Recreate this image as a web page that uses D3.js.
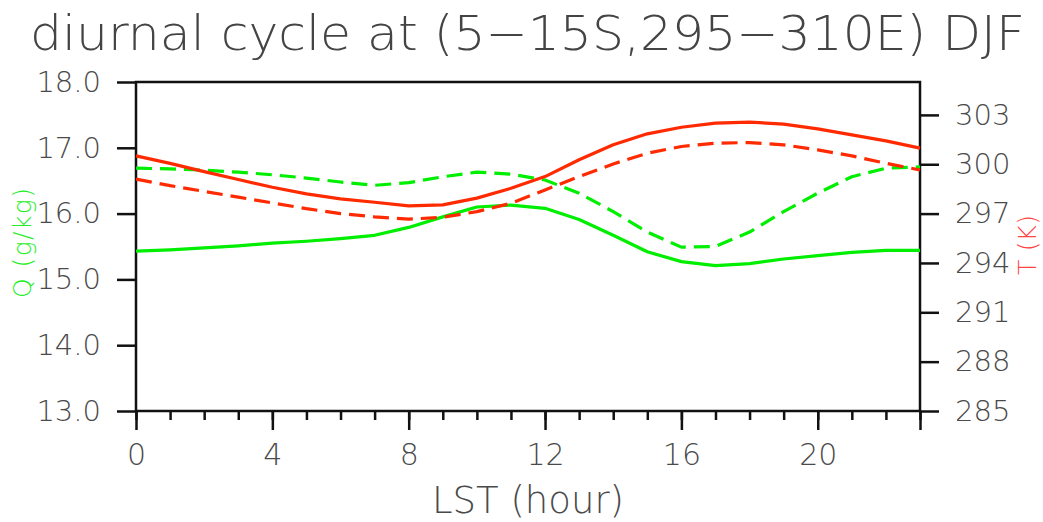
<!DOCTYPE html>
<html>
<head>
<meta charset="utf-8">
<script src="https://cdn.jsdelivr.net/npm/d3@7"></script>
<style>
  body { margin: 0; background: #fff; }
  text { font-family: "DejaVu Sans", sans-serif; font-weight: 200; }
</style>
</head>
<body>
<div id="chart"></div>
<script>
var hours = d3.range(0, 24)

// specific humidity (g/kg)
var qSolid = [15.43, 15.45, 15.48, 15.51, 15.55, 15.58, 15.62, 15.67, 15.79, 15.95, 16.10, 16.13,
              16.08, 15.91, 15.67, 15.42, 15.27, 15.21, 15.24, 15.31, 15.36, 15.41, 15.44, 15.44]
var qDashed = [16.69, 16.68, 16.66, 16.63, 16.59, 16.54, 16.48, 16.43, 16.47, 16.56, 16.63, 16.60,
               16.51, 16.31, 16.03, 15.72, 15.49, 15.50, 15.72, 16.03, 16.31, 16.56, 16.69, 16.71]

// temperature (K)
var tSolid = [300.51, 300.05, 299.55, 299.07, 298.6, 298.2, 297.9, 297.69, 297.47, 297.53, 297.94, 298.54,
              299.25, 300.27, 301.18, 301.85, 302.25, 302.50, 302.56, 302.44, 302.15, 301.79, 301.42, 300.98]
var tDashed = [299.1, 298.7, 298.35, 298.0, 297.65, 297.3, 297.0, 296.8, 296.66, 296.78, 297.12, 297.63,
               298.44, 299.25, 300.02, 300.67, 301.08, 301.28, 301.32, 301.18, 300.87, 300.51, 300.06, 299.65]

var qTicks = [13, 14, 15, 16, 17, 18]
var tTicks = [285, 288, 291, 294, 297, 300, 303]
var xTicks = [0, 4, 8, 12, 16, 20]

var W = 1043, H = 522
var margin = { top: 82, right: 123, bottom: 111, left: 136 }
var width = W - margin.left - margin.right
var height = H - margin.top - margin.bottom

var green = "#00ee00"
var red = "#ff2a00"

var svg = d3.select("#chart").append("svg")
    .attr("width", W)
    .attr("height", H)

var g = svg.append("g")
    .attr("transform", "translate(" + margin.left + "," + margin.top + ")")

var x = d3.scaleLinear().domain([0, 23]).range([0, width])
var yQ = d3.scaleLinear().domain([13, 18]).range([height, 0])
var yT = d3.scaleLinear().domain([285, 305]).range([height, 0])

// axes
var xMinor = g.append("g")
    .attr("transform", "translate(0," + height + ")")
    .call(d3.axisBottom(x).tickValues(hours).tickSize(9).tickFormat(""))
var xAxis = g.append("g")
    .attr("transform", "translate(0," + height + ")")
    .call(d3.axisBottom(x).tickValues(xTicks.concat([23])).tickSize(19).tickPadding(14)
        .tickFormat(function(d) { return d == 23 ? "" : d }))
var leftAxis = g.append("g")
    .call(d3.axisLeft(yQ).tickValues(qTicks).tickSize(19).tickPadding(16).tickFormat(d3.format(".1f")))
var rightAxis = g.append("g")
    .attr("transform", "translate(" + width + ",0)")
    .call(d3.axisRight(yT).tickValues(tTicks).tickSize(19).tickPadding(16))

;[xMinor, xAxis, leftAxis, rightAxis].forEach(function(a) {
    a.select(".domain").remove()
    a.selectAll("line").attr("stroke", "#111").attr("stroke-width", 2.5)
    a.selectAll("text").attr("fill", "#4a4a4a").style("font-size", "29px")
})
xAxis.selectAll("text").style("font-size", "30px")

// frame
g.append("rect")
    .attr("width", width)
    .attr("height", height)
    .attr("fill", "none")
    .attr("stroke", "#111")
    .attr("stroke-width", 2.5)

var lineQ = d3.line()
    .x(function(d, i) { return x(hours[i]) })
    .y(function(d) { return yQ(d) })
var lineT = d3.line()
    .x(function(d, i) { return x(hours[i]) })
    .y(function(d) { return yT(d) })

var series = [
    { data: qDashed, line: lineQ, color: green, dash: "16,8" },
    { data: qSolid, line: lineQ, color: green, dash: null },
    { data: tDashed, line: lineT, color: red, dash: "16,8" },
    { data: tSolid, line: lineT, color: red, dash: null }
]

g.selectAll(".series")
    .data(series)
    .enter().append("path")
    .attr("class", "series")
    .attr("d", function(d) { return d.line(d.data) })
    .attr("fill", "none")
    .attr("stroke", function(d) { return d.color })
    .attr("stroke-width", 3.2)
    .attr("stroke-linejoin", "round")
    .attr("stroke-dasharray", function(d) { return d.dash })

// titles
svg.append("text")
    .attr("x", 30)
    .attr("y", 50)
    .attr("textLength", 995)
    .attr("lengthAdjust", "spacingAndGlyphs")
    .attr("fill", "#444")
    .style("font-size", "48px")
    .text("diurnal cycle at (5\u221215S,295\u2212310E) DJF")

svg.append("text")
    .attr("x", 528)
    .attr("y", 513)
    .attr("text-anchor", "middle")
    .attr("fill", "#4a4a4a")
    .style("font-size", "37px")
    .text("LST (hour)")

svg.append("text")
    .attr("transform", "translate(31,243) rotate(-90)")
    .attr("text-anchor", "middle")
    .attr("fill", "#22ee22")
    .style("font-size", "25px")
    .attr("textLength", 110)
    .text("Q (g/kg)")

svg.append("text")
    .attr("transform", "translate(1036,245) rotate(-90)")
    .attr("text-anchor", "middle")
    .attr("fill", "#ff4444")
    .style("font-size", "25px")
    .attr("textLength", 60)
    .text("T (K)")
</script>
</body>
</html>
